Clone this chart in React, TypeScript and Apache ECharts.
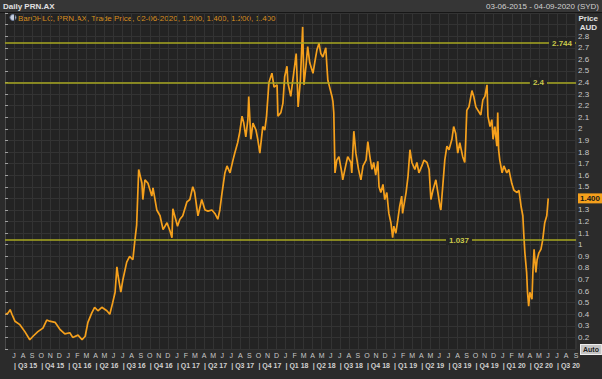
import React, { useEffect, useRef } from 'react';
import * as echarts from 'echarts';

const dates: string[] = [
  '2015-06-03','2015-06-11','2015-06-18','2015-06-24','2015-07-04','2015-07-21','2015-08-07','2015-08-24','2015-09-04','2015-09-20',
  '2015-10-07','2015-10-20','2015-10-30','2015-11-17','2015-12-03','2015-12-20','2016-01-06','2016-01-16','2016-02-03','2016-02-16',
  '2016-02-26','2016-03-06','2016-03-19','2016-03-29','2016-04-09','2016-04-22','2016-05-09','2016-05-19','2016-05-29','2016-06-06',
  '2016-06-12','2016-06-16','2016-06-25','2016-07-02','2016-07-15','2016-07-25','2016-08-05','2016-08-12','2016-08-18','2016-08-25',
  '2016-09-05','2016-09-08','2016-09-15','2016-09-25','2016-10-08','2016-10-12','2016-10-25','2016-11-05','2016-11-15','2016-11-28',
  '2016-12-08','2016-12-15','2016-12-18','2017-01-03','2017-01-11','2017-01-21','2017-02-04','2017-02-13','2017-02-22','2017-02-28',
  '2017-03-11','2017-03-24','2017-04-04','2017-04-14','2017-04-27','2017-05-07','2017-05-17','2017-05-24','2017-05-30','2017-06-10',
  '2017-06-17','2017-06-27','2017-07-07','2017-07-13','2017-07-23','2017-07-30','2017-08-07','2017-08-13','2017-08-20','2017-08-27',
  '2017-08-30','2017-09-06','2017-09-13','2017-09-23','2017-09-29','2017-10-06','2017-10-16','2017-10-23','2017-10-29','2017-11-06',
  '2017-11-16','2017-11-23','2017-12-03','2017-12-06','2017-12-16','2017-12-23','2017-12-29','2018-01-06','2018-01-09','2018-01-19',
  '2018-01-26','2018-02-06','2018-02-12','2018-02-19','2018-02-26','2018-03-02','2018-03-09','2018-03-15','2018-03-22','2018-04-02',
  '2018-04-09','2018-04-15','2018-04-22','2018-04-28','2018-05-05','2018-05-15','2018-05-18','2018-05-22','2018-05-28','2018-06-05',
  '2018-06-08','2018-06-11','2018-06-15','2018-06-21','2018-06-28','2018-07-08','2018-07-11','2018-07-21','2018-07-28','2018-08-08',
  '2018-08-11','2018-08-18','2018-08-25','2018-09-03','2018-09-11','2018-09-18','2018-09-28','2018-10-04','2018-10-11','2018-10-18',
  '2018-10-24','2018-10-31','2018-11-07','2018-11-11','2018-11-17','2018-11-24','2018-11-30','2018-12-07','2018-12-14','2018-12-21',
  '2018-12-27','2018-12-31','2019-01-07','2019-01-14','2019-01-20','2019-01-27','2019-01-30','2019-02-10','2019-02-16','2019-02-22',
  '2019-02-28','2019-03-10','2019-03-17','2019-03-24','2019-04-03','2019-04-10','2019-04-20','2019-04-27','2019-05-03','2019-05-10',
  '2019-05-20','2019-05-27','2019-06-03','2019-06-06','2019-06-13','2019-06-19','2019-06-26','2019-07-03','2019-07-13','2019-07-19',
  '2019-07-26','2019-08-02','2019-08-09','2019-08-19','2019-08-26','2019-08-29','2019-09-02','2019-09-09','2019-09-19','2019-09-25',
  '2019-10-02','2019-10-09','2019-10-19','2019-10-26','2019-11-02','2019-11-09','2019-11-12','2019-11-19','2019-11-25','2019-11-29',
  '2019-12-05','2019-12-12','2019-12-15','2019-12-18','2019-12-22','2019-12-30','2020-01-05','2020-01-15','2020-01-22','2020-02-01',
  '2020-02-08','2020-02-18','2020-02-24','2020-03-02','2020-03-08','2020-03-11','2020-03-15','2020-03-21','2020-03-24','2020-03-28',
  '2020-04-01','2020-04-08','2020-04-11','2020-04-15','2020-04-21','2020-04-25','2020-05-01','2020-05-08','2020-05-14','2020-05-21',
  '2020-05-28','2020-06-02',
];

const prices: number[] = [
  0.40,0.41,0.44,0.40,0.34,0.31,0.25,0.18,0.21,0.25,
  0.28,0.35,0.34,0.33,0.27,0.23,0.24,0.20,0.22,0.18,
  0.21,0.33,0.41,0.46,0.43,0.46,0.43,0.40,0.50,0.59,
  0.81,0.73,0.59,0.70,0.85,0.90,0.87,1.04,1.17,1.65,
  1.53,1.39,1.56,1.53,1.42,1.49,1.30,1.25,1.13,1.19,
  1.12,1.06,1.31,1.16,1.22,1.25,1.37,1.39,1.50,1.45,
  1.25,1.39,1.30,1.29,1.30,1.27,1.22,1.30,1.42,1.62,
  1.68,1.62,1.73,1.79,1.88,1.97,2.11,2.05,1.93,2.08,
  2.28,1.91,2.05,1.99,1.91,1.79,2.02,1.99,2.11,2.40,
  2.48,2.36,2.38,2.11,2.14,2.22,2.45,2.54,2.40,2.28,
  2.42,2.65,2.19,2.42,2.88,2.38,2.54,2.71,2.57,2.48,
  2.59,2.68,2.74,2.65,2.62,2.70,2.57,2.42,2.36,2.28,
  2.24,2.14,1.62,1.73,1.76,1.62,1.56,1.68,1.76,1.71,
  1.62,1.98,1.79,1.65,1.56,1.68,1.73,1.89,1.76,1.65,
  1.71,1.60,1.72,1.50,1.45,1.52,1.39,1.45,1.27,1.19,
  1.06,1.16,1.10,1.22,1.33,1.42,1.27,1.45,1.59,1.82,
  1.71,1.65,1.71,1.62,1.68,1.73,1.71,1.65,1.39,1.47,
  1.56,1.45,1.33,1.30,1.53,1.73,1.85,1.82,1.91,2.02,
  1.96,1.79,1.88,1.76,1.71,1.88,2.16,2.19,2.33,2.28,
  2.19,2.16,2.12,2.25,2.28,2.38,2.11,2.02,2.08,1.91,
  2.02,1.85,2.14,1.82,1.73,1.62,1.68,1.62,1.65,1.53,
  1.47,1.45,1.47,1.33,1.25,1.10,0.93,0.76,0.59,0.47,
  0.59,0.53,0.76,0.96,0.76,0.87,0.93,0.96,1.04,1.19,
  1.25,1.40,
];

const levels: number[] = [2.744, 2.4, 1.037];
const levelLabels: string[] = ['2.744', '2.4', '1.037'];
const levelLabelOffsets: number[] = [1, 29, 104];
const lastPrice = 1.4;
const lastPriceLabel = '1.400';
const monthLetters: string[] = ['J', 'F', 'M', 'A', 'M', 'J', 'J', 'A', 'S', 'O', 'N', 'D'];
const startDate = '2015-06-01';
const endDate = '2020-09-04';
const titleText = 'Daily PRN.AX';
const rangeText = '03-06-2015 - 04-09-2020 (SYD)';
const legendText = 'BarOHLC, PRN.AX, Trade Price, 02-06-2020, 1.200, 1.400, 1.200, 1.400';

function toMonths(s: string): number {
  const [y, m, d] = s.split('-').map(Number);
  const dim = new Date(y, m, 0).getDate();
  return (y - 2015) * 12 + (m - 6) + (d - 1) / dim;
}

const FONT = 'Liberation Sans';
const LEVEL_COLOR = '#a9a922';
const SERIES_COLOR = '#f5a01c';
const PLOT_BG = '#232323';

export default function App() {
  const ref = useRef<HTMLDivElement>(null);
  useEffect(() => {
    if (!ref.current) return;
    const chart = echarts.init(ref.current, undefined, { renderer: 'svg' });
    const data = dates.map((d, i) => [toMonths(d), prices[i]]);
    const xMin = toMonths(startDate);
    const xMax = toMonths(endDate);
    const monthInfo = (v: number) => {
      const total = Math.round(v) + 5;
      return { year: 2015 + Math.floor(total / 12), month: total % 12 };
    };
    chart.setOption({
      animation: false,
      backgroundColor: '#2b2b2b',
      textStyle: { fontFamily: FONT },
      grid: {
        left: 5, right: 26, top: 13, bottom: 30,
        show: true, backgroundColor: PLOT_BG, borderWidth: 0,
      },
      xAxis: [
        {
          type: 'value', min: xMin, max: xMax, interval: 1,
          axisLine: { show: false }, axisTick: { show: false },
          splitLine: { show: true, lineStyle: { color: '#333333', width: 1 } },
          axisLabel: {
            color: '#c8c8c8', fontSize: 7, fontFamily: FONT, margin: 3,
            showMinLabel: false, showMaxLabel: true,
            formatter: (v: number) => {
              if (v < 0.5) return '';
              return monthLetters[monthInfo(v).month];
            },
          },
        },
        {
          type: 'value', min: xMin, max: xMax, interval: 1, position: 'bottom', offset: 10,
          axisLine: { show: false }, axisTick: { show: false }, splitLine: { show: false },
          axisLabel: {
            color: '#d0d0d0', fontSize: 7, fontWeight: 'bold', fontFamily: FONT, margin: 3, align: 'left',
            showMinLabel: true, showMaxLabel: true,
            formatter: (v: number) => {
              const { year, month } = monthInfo(v);
              if (month % 3 !== 0) return '';
              return '| Q' + (month / 3 + 1) + ' ' + String(year).slice(2);
            },
          },
        },
      ],
      yAxis: {
        type: 'value', position: 'right', min: 0.1, max: 3.0, interval: 0.1,
        axisLine: { show: true, lineStyle: { color: '#4a4a4a' } },
        axisTick: { show: true, length: 3, lineStyle: { color: '#a0a0a0' } },
        splitLine: { show: true, lineStyle: { color: '#333333', width: 1 } },
        axisLabel: {
          color: '#c8c8c8', fontSize: 8, fontFamily: FONT, margin: 2,
          formatter: (v: number) => {
            const r = Math.round(v * 10) / 10;
            if (r < 0.15 || r > 2.85 || Math.abs(r - lastPrice) < 0.01) return '';
            return Number.isInteger(r) ? String(r) : r.toFixed(1);
          },
        },
      },
      series: [
        {
          type: 'line', data, showSymbol: false, xAxisIndex: 0,
          lineStyle: { color: SERIES_COLOR, width: 1.7 },
          itemStyle: { color: SERIES_COLOR },
          z: 3,
          markLine: {
            silent: true, symbol: 'none',
            data: [
              ...levels.map((lv, i) => ({
                yAxis: lv,
                lineStyle: { color: LEVEL_COLOR, width: 1.5, type: 'solid' },
                label: {
                  show: true, position: 'insideEnd', formatter: levelLabels[i],
                  distance: [levelLabelOffsets[i], 0],
                  color: '#c9c94a', fontSize: 8, fontWeight: 'bold', fontFamily: FONT,
                  backgroundColor: PLOT_BG, padding: [1, 3],
                },
              })),
              {
                yAxis: lastPrice,
                lineStyle: { color: 'rgba(0,0,0,0)', width: 1, type: 'solid' },
                label: {
                  show: true, position: 'end', formatter: lastPriceLabel, distance: 2,
                  color: '#1a1a1a', backgroundColor: '#f5a01c', fontSize: 8, fontWeight: 'bold',
                  fontFamily: FONT, padding: [1, 2, 1, 2],
                },
              },
            ],
          },
        },
      ],
      graphic: [
        { type: 'rect', left: 0, top: 0, shape: { width: 602, height: 12 }, style: { fill: '#363636' }, silent: true },
        { type: 'rect', left: 0, top: 12, shape: { width: 602, height: 1 }, style: { fill: '#161616' }, silent: true },
        { type: 'text', left: 3, top: 2, style: { text: titleText, fill: '#e0e0e0', font: 'bold 8px ' + FONT } },
        { type: 'text', right: 3, top: 2, style: { text: rangeText, fill: '#d0d0d0', font: '8px ' + FONT } },
        { type: 'circle', shape: { cx: 13, cy: 17.5, r: 3 }, style: { fill: '#c8d0e0', stroke: '#6f7f9f', lineWidth: 1 }, silent: true },
        { type: 'text', left: 18, top: 14, style: { text: legendText, fill: '#d88e1f', font: '8px ' + FONT } },
        { type: 'text', right: 4, top: 14, style: { text: 'Price', fill: '#e0e0e0', font: 'bold 8px ' + FONT } },
        { type: 'text', right: 5, top: 23, style: { text: 'AUD', fill: '#e0e0e0', font: 'bold 8px ' + FONT } },
        {
          type: 'text', left: 580, top: 344,
          style: {
            text: 'Auto', fill: '#222222', font: 'bold 7px ' + FONT,
            backgroundColor: '#c4c4c4', padding: [1, 2], borderColor: '#eeeeee', borderWidth: 1,
          },
        },
      ],
    });
    return () => chart.dispose();
  }, []);
  return (
    <div
      ref={ref}
      style={{ position: 'fixed', left: 0, top: 0, width: 602, height: 379, background: '#2b2b2b' }}
    />
  );
}
